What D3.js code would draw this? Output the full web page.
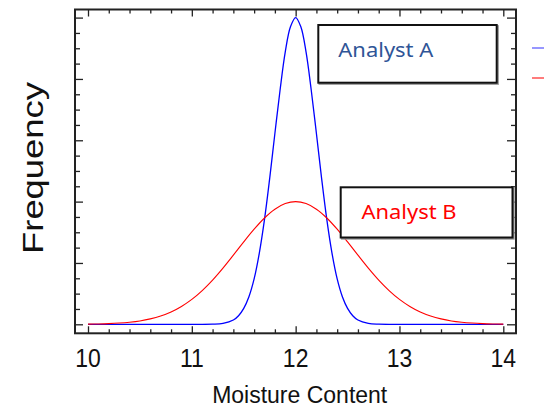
<!DOCTYPE html>
<html>
<head>
<meta charset="utf-8">
<script src="https://cdn.jsdelivr.net/npm/d3@7"></script>
<style>
  html, body { margin: 0; padding: 0; background: #fff; }
  svg { display: block; }
</style>
</head>
<body>
<svg id="chart" width="544" height="408"></svg>
<script>
// ---- data ----
const xBlue = [10, 10.5, 11, 11.2, 11.3, 11.4, 11.45, 11.5, 11.55, 11.6, 11.65, 11.7, 11.75, 11.8, 11.85, 11.9, 11.95,
               12, 12.05, 12.1, 12.15, 12.2, 12.25, 12.3, 12.35, 12.4, 12.45, 12.5, 12.55, 12.6, 12.7, 12.8, 13, 13.5, 14];
const yBlue = [0, 0, 0, 0.002, 0.015, 0.07, 0.14, 0.26, 0.45, 0.74, 1.16, 1.71, 2.38, 3.11, 3.82, 4.44, 4.85,
               5, 4.85, 4.44, 3.82, 3.11, 2.38, 1.71, 1.16, 0.74, 0.45, 0.26, 0.14, 0.07, 0.015, 0.002, 0, 0, 0];
const xRed = [10, 10.1, 10.2, 10.3, 10.4, 10.5, 10.6, 10.7, 10.8, 10.9, 11, 11.1, 11.2, 11.3, 11.4, 11.5, 11.6, 11.7, 11.8, 11.9,
              12, 12.1, 12.2, 12.3, 12.4, 12.5, 12.6, 12.7, 12.8, 12.9, 13, 13.1, 13.2, 13.3, 13.4, 13.5, 13.6, 13.7, 13.8, 13.9, 14];
const yRed = [0.003, 0.006, 0.011, 0.020, 0.034, 0.055, 0.088, 0.135, 0.201, 0.291, 0.406, 0.550, 0.721, 0.916, 1.127, 1.343, 1.550, 1.733, 1.876, 1.968,
              2.0, 1.968, 1.876, 1.733, 1.550, 1.343, 1.127, 0.916, 0.721, 0.550, 0.406, 0.291, 0.201, 0.135, 0.088, 0.055, 0.034, 0.020, 0.011, 0.006, 0.003];
const seriesNames = ["Analyst A", "Analyst B"];
const seriesColors = ["#0000ff", "#ff0000"];
const xMajor = [10, 11, 12, 13, 14];
const xTickLabels = ["10", "11", "12", "13", "14"];
const xMinor = [10.2,10.4,10.6,10.8,11.2,11.4,11.6,11.8,12.2,12.4,12.6,12.8,13.2,13.4,13.6,13.8];
const yMajor = [0, 1, 2, 3, 4, 5];
const yMinor = [0.25,0.5,0.75,1.25,1.5,1.75,2.25,2.5,2.75,3.25,3.5,3.75,4.25,4.5,4.75];
const xTitle = "Moisture Content";
const yTitle = "Frequency";

// ---- layout ----
const svg = d3.select("#chart");
const frame = {left: 75, right: 516, top: 9.5, bottom: 333.3};
const x = d3.scaleLinear().domain([10, 14]).range([88, 503.3]);
const y = d3.scaleLinear().domain([0, 5]).range([324.3, 17.6]);

// curves
const line = d3.line().x(d => x(d[0])).y(d => y(d[1])).curve(d3.curveCatmullRom.alpha(0.5));
const series = [
  {xs: xBlue, ys: yBlue, color: seriesColors[0], w: 1.3},
  {xs: xRed, ys: yRed, color: seriesColors[1], w: 1.1}
];
svg.selectAll("path.curve").data(series).enter().append("path")
  .attr("class", "curve")
  .attr("fill", "none")
  .attr("stroke", d => d.color)
  .attr("stroke-width", d => d.w)
  .attr("d", d => line(d.xs.map((v, i) => [v, d.ys[i]])));

// ticks (inward on all four sides)
function ticks(axisFn, vals, size, transform) {
  const g = svg.append("g").attr("transform", transform)
    .call(axisFn.tickValues(vals).tickSize(size).tickFormat(""));
  g.select(".domain").remove();
  g.selectAll("line").attr("stroke", "#222").attr("stroke-width", 1.3);
}
ticks(d3.axisTop(x), xMajor, 7, `translate(0,${frame.bottom})`);
ticks(d3.axisTop(x), xMinor, 4, `translate(0,${frame.bottom})`);
ticks(d3.axisBottom(x), xMajor, 7, `translate(0,${frame.top})`);
ticks(d3.axisBottom(x), xMinor, 4, `translate(0,${frame.top})`);
ticks(d3.axisRight(y), yMajor, 8, `translate(${frame.left},0)`);
ticks(d3.axisRight(y), yMinor, 5, `translate(${frame.left},0)`);
ticks(d3.axisLeft(y), yMajor, 9, `translate(${frame.right},0)`);
ticks(d3.axisLeft(y), yMinor, 5, `translate(${frame.right},0)`);

// frame
svg.append("rect")
  .attr("x", frame.left).attr("y", frame.top)
  .attr("width", frame.right - frame.left).attr("height", frame.bottom - frame.top)
  .attr("fill", "none").attr("stroke", "#222").attr("stroke-width", 2);

// x tick labels
svg.append("g").selectAll("text").data(xMajor).enter().append("text")
  .attr("x", d => x(d)).attr("y", 367)
  .attr("text-anchor", "middle")
  .attr("font-family", "Liberation Sans, Arial, sans-serif")
  .attr("font-size", 23)
  .attr("fill", "#111")
  .attr("transform", d => `translate(0,367) scale(1,1.12) translate(0,-367)`)
  .text((d, i) => xTickLabels[i]);

// axis titles
svg.append("text")
  .attr("x", 299.7).attr("y", 403.3)
  .attr("text-anchor", "middle")
  .attr("font-family", "Liberation Sans, Arial, sans-serif")
  .attr("font-size", 23)
  .attr("fill", "#111")
  .text(xTitle);

svg.append("text")
  .attr("transform", "translate(43.3,168) rotate(-90)")
  .attr("x", 0).attr("y", 0)
  .attr("text-anchor", "middle")
  .attr("font-family", "Liberation Sans, Arial, sans-serif")
  .attr("font-size", 30)
  .attr("textLength", 172)
  .attr("lengthAdjust", "spacingAndGlyphs")
  .attr("fill", "#111")
  .text(yTitle);

// annotation boxes
const boxes = [
  {x0: 318.3, y0: 25, x1: 496.7, y1: 82.7, tx: 338.3, ty: 57.3, color: "#2f5597", label: seriesNames[0]},
  {x0: 340.7, y0: 187.3, x1: 512.5, y1: 237.5, tx: 361.5, ty: 218.5, color: "#ff0000", label: seriesNames[1]}
];
const bg = svg.append("g").selectAll("g").data(boxes).enter().append("g");
bg.append("rect")
  .attr("x", d => d.x0 + 1.2).attr("y", d => d.y0 + 1.2)
  .attr("width", d => d.x1 - d.x0).attr("height", d => d.y1 - d.y0)
  .attr("fill", "none").attr("stroke", "#999").attr("stroke-width", 2);
bg.append("rect")
  .attr("x", d => d.x0).attr("y", d => d.y0)
  .attr("width", d => d.x1 - d.x0).attr("height", d => d.y1 - d.y0)
  .attr("fill", "#fff").attr("stroke", "#111").attr("stroke-width", 2);
bg.append("text")
  .attr("x", d => d.tx).attr("y", d => d.ty)
  .attr("font-family", "Noto Sans, Open Sans, sans-serif")
  .attr("font-size", 20)
  .attr("textLength", 95)
  .attr("lengthAdjust", "spacingAndGlyphs")
  .attr("fill", d => d.color)
  .text(d => d.label);

// legend line samples (cut off at the right edge)
const legendY = [48, 78];
const legendColors = ["#7575ff", "#ff5050"];
svg.append("g").selectAll("line").data(seriesNames).enter().append("line")
  .attr("x1", 532).attr("x2", 552)
  .attr("y1", (d, i) => legendY[i]).attr("y2", (d, i) => legendY[i])
  .attr("stroke", (d, i) => legendColors[i])
  .attr("stroke-width", 1.5);
</script>
</body>
</html>
